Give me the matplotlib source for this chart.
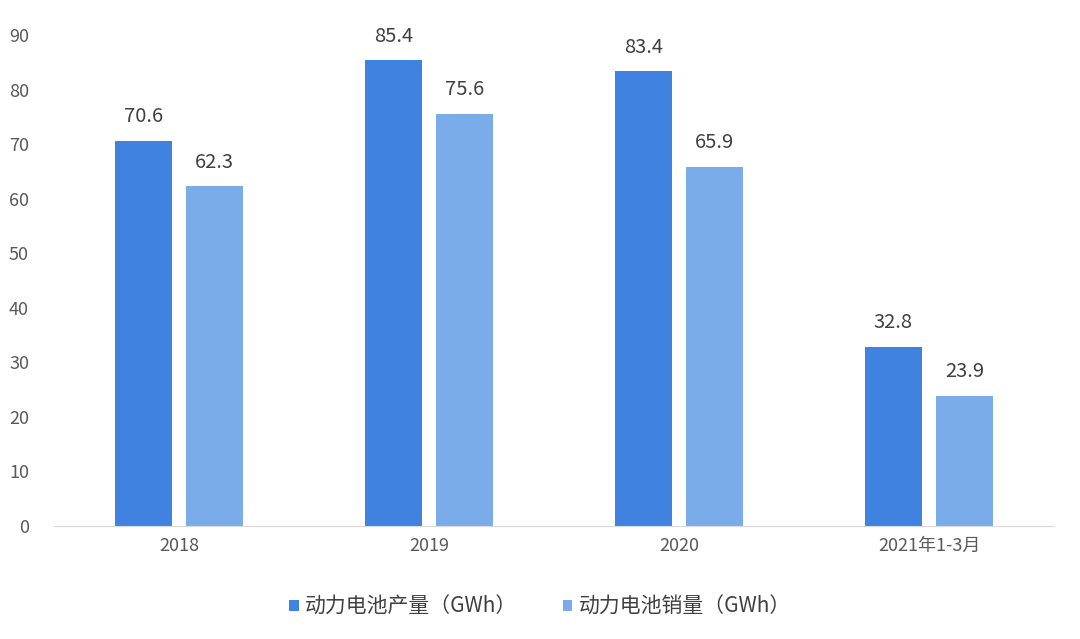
import matplotlib.pyplot as plt
import numpy as np

plt.rcParams['font.family'] = ['Noto Sans CJK SC', 'DejaVu Sans']

categories = ['2018', '2019', '2020', '2021年1-3月']
output = [70.6, 85.4, 83.4, 32.8]   # 动力电池产量
sales = [62.3, 75.6, 65.9, 23.9]    # 动力电池销量

fig = plt.figure(figsize=(10.8, 6.39), dpi=100)
ax = fig.add_axes([0.05, 0.177, 0.926, 0.768])

x = np.arange(len(categories))
w = 0.228
c1 = '#3f82df'
c2 = '#7aace9'
b1 = ax.bar(x - 0.143, output, w, color=c1, label='动力电池产量（GWh）')
b2 = ax.bar(x + 0.143, sales, w, color=c2, label='动力电池销量（GWh）')

for rects, vals in ((b1, output), (b2, sales)):
    for r, v in zip(rects, vals):
        ax.text(r.get_x() + r.get_width() / 2, v + 2.5, '%.1f' % v,
                ha='center', va='bottom', fontsize=14.5, color='#404040')

ax.set_xlim(-0.5, 3.5)
ax.set_ylim(0, 90)
ax.set_yticks(range(0, 91, 10))
ax.set_xticks(x)
ax.set_xticklabels(categories)
ax.tick_params(axis='both', length=0, labelsize=13, colors='#595959')
ax.tick_params(axis='x', pad=8)
ax.tick_params(axis='y', pad=18)
for s in ('top', 'right', 'left'):
    ax.spines[s].set_visible(False)
ax.spines['bottom'].set_color('#d9d9d9')

fig.legend(loc='center', bbox_to_anchor=(0.5, 0.05), ncol=2, frameon=False,
           fontsize=15, handlelength=0.45, handleheight=0.45, columnspacing=2.2,
           handletextpad=0.3, labelcolor='#404040')

plt.savefig('out.png')
